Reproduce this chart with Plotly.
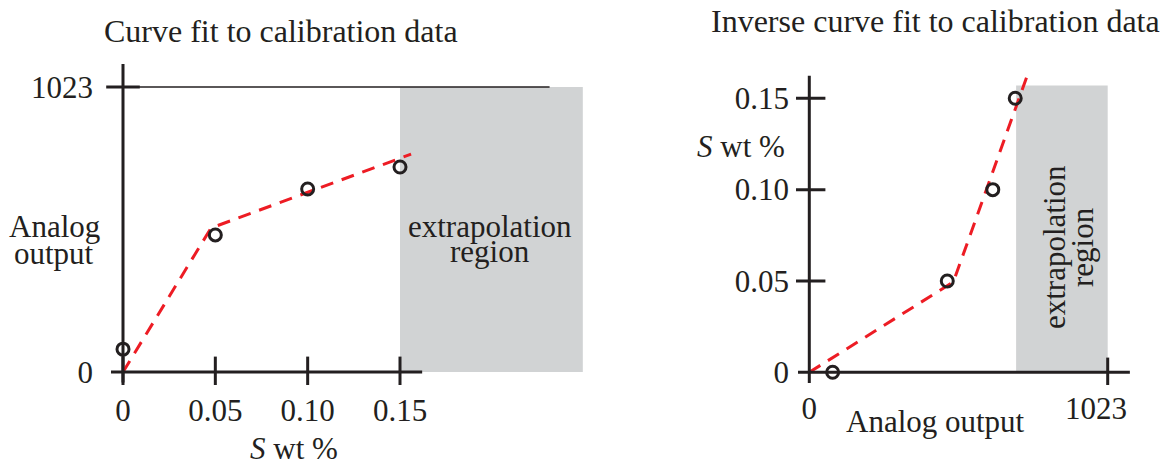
import plotly.graph_objects as go

# ---------------- data ----------------
cal_s = [0, 0.05, 0.10, 0.15]            # S wt % (calibration)
cal_out = [82, 492, 657, 736]            # analog output (calibration)
fit_s = [0, 0.0477, 0.156]               # forward fit, S wt %
fit_out = [0, 517, 782]                  # forward fit, analog output

inv_out = [80, 473, 629, 706]            # inverse: analog output
inv_s = [0, 0.05, 0.10, 0.15]            # inverse: S wt %
ifit_out = [0, 494, 745]
ifit_s = [0, 0.0495, 0.1615]

left_xticks = [0, 0.05, 0.10, 0.15]
left_xticktext = ["0", "0.05", "0.10", "0.15"]
left_yticks = [0, 1023]
right_yticks = [0, 0.05, 0.10, 0.15]
right_yticktext = ["0", "0.05", "0.10", "0.15"]
right_xticks = [0, 1023]
right_xticktext = ["0", "1023\u00a0\u00a0\u00a0"]

W, H = 1165, 468
INK = "#231f20"
RED = "#ed1c24"
GRAY = "#d1d3d4"
FONT = "Liberation Serif, Times New Roman, serif"


def rng(px0, px1, anchor_px, anchor_val, ppu):
    """data range for pixel span given anchor pixel and pixels per unit"""
    return [anchor_val + (px0 - anchor_px) / ppu, anchor_val + (px1 - anchor_px) / ppu]


# left subplot pixel geometry
Lx0, Lx1 = 100, 600
Ly_top, Ly_bot = 50, 385
L_ppu_x = (400 - 123) / 0.15
L_ppu_y = (372 - 87) / 1023.0
# right subplot pixel geometry
Rx0, Rx1 = 796, 1140
Ry_top, Ry_bot = 60, 385
R_ppu_x = (1107.7 - 809.3) / 1023.0
R_ppu_y = (372.3 - 98.3) / 0.15

fig = go.Figure()

# gray extrapolation regions
fig.add_shape(type="rect", xref="x", yref="y", x0=0.15, x1=0.249, y0=0, y1=1023,
              fillcolor=GRAY, line_width=0, layer="below")
fig.add_shape(type="rect", xref="x2", yref="y2", x0=709, x1=1023, y0=0, y1=0.157,
              fillcolor=GRAY, line_width=0, layer="below")

# left axes lines
fig.add_shape(type="line", xref="x", yref="y", x0=-0.0065, x1=0.162, y0=0, y1=0,
              line=dict(color=INK, width=3))
fig.add_shape(type="line", xref="x", yref="y", x0=0, x1=0, y0=-38, y1=1106,
              line=dict(color=INK, width=3))
fig.add_shape(type="line", xref="x", yref="y", x0=0, x1=0.231, y0=1023, y1=1023,
              line=dict(color=INK, width=1.5))
# right axes lines
fig.add_shape(type="line", xref="x2", yref="y2", x0=-38.7, x1=1099, y0=0, y1=0,
              line=dict(color=INK, width=3))
fig.add_shape(type="line", xref="x2", yref="y2", x0=0, x1=0, y0=-0.0059, y1=0.1623,
              line=dict(color=INK, width=3))

# tick marks as line markers
fig.add_trace(go.Scatter(x=left_xticks, y=[0] * len(left_xticks), mode="markers",
                         marker=dict(symbol="line-ns", size=22, line=dict(color=INK, width=3)),
                         hoverinfo="skip", showlegend=False, xaxis="x", yaxis="y"))
fig.add_trace(go.Scatter(x=[0], y=[1023], mode="markers",
                         marker=dict(symbol="line-ew", size=24, line=dict(color=INK, width=3)),
                         hoverinfo="skip", showlegend=False, xaxis="x", yaxis="y"))
fig.add_trace(go.Scatter(x=[0] * 3, y=right_yticks[1:], mode="markers",
                         marker=dict(symbol="line-ew", size=23, line=dict(color=INK, width=3)),
                         hoverinfo="skip", showlegend=False, xaxis="x2", yaxis="y2"))
fig.add_trace(go.Scatter(x=[1023], y=[0], mode="markers",
                         marker=dict(symbol="line-ns", size=21, line=dict(color=INK, width=3)),
                         hoverinfo="skip", showlegend=False, xaxis="x2", yaxis="y2"))

# fits
fig.add_trace(go.Scatter(x=fit_s, y=fit_out, mode="lines",
                         line=dict(color=RED, width=3, dash="13px,9px"),
                         showlegend=False, xaxis="x", yaxis="y"))
fig.add_trace(go.Scatter(x=ifit_out, y=ifit_s, mode="lines",
                         line=dict(color=RED, width=3, dash="13px,9px"),
                         showlegend=False, xaxis="x2", yaxis="y2"))
# calibration points
fig.add_trace(go.Scatter(x=cal_s, y=cal_out, mode="markers",
                         marker=dict(symbol="circle-open", size=12, color=INK, line=dict(color=INK, width=3)),
                         showlegend=False, xaxis="x", yaxis="y"))
fig.add_trace(go.Scatter(x=inv_out, y=inv_s, mode="markers",
                         marker=dict(symbol="circle-open", size=12, color=INK, line=dict(color=INK, width=3)),
                         showlegend=False, xaxis="x2", yaxis="y2"))

tickfont = dict(family=FONT, size=31, color=INK)


def pxx(px):
    return px / W


def pxy(py):
    return 1 - py / H


common = dict(showgrid=False, zeroline=False, showline=False, ticks="",
              automargin=False, fixedrange=True, tickfont=tickfont, tickmode="array")

fig.update_layout(
    width=W, height=H, margin=dict(l=0, r=0, t=0, b=0, autoexpand=False),
    paper_bgcolor="white", plot_bgcolor="rgba(0,0,0,0)",
    xaxis=dict(domain=[pxx(Lx0), pxx(Lx1)], range=rng(Lx0, Lx1, 123, 0, L_ppu_x),
               tickvals=left_xticks, ticktext=left_xticktext,
               ticklabelstandoff=4, anchor="y", **common),
    yaxis=dict(domain=[pxy(Ly_bot), pxy(Ly_top)],
               range=[(372 - Ly_bot) / L_ppu_y, (372 - Ly_top) / L_ppu_y],
               tickvals=left_yticks, ticklabelstandoff=6, anchor="x", **common),
    xaxis2=dict(domain=[pxx(Rx0), pxx(Rx1)], range=rng(Rx0, Rx1, 809.3, 0, R_ppu_x),
                tickvals=right_xticks, ticktext=right_xticktext,
                ticklabelstandoff=2, anchor="y2", **common),
    yaxis2=dict(domain=[pxy(Ry_bot), pxy(Ry_top)],
                range=[(372.3 - Ry_bot) / R_ppu_y, (372.3 - Ry_top) / R_ppu_y],
                tickvals=right_yticks, ticktext=right_yticktext,
                ticklabelstandoff=6, anchor="x2", **common),
)


def ann(text, px, py, xanchor="center", yanchor="middle", angle=0, size=31):
    fig.add_annotation(text=text, x=pxx(px), y=pxy(py), xref="paper", yref="paper",
                       showarrow=False, xanchor=xanchor, yanchor=yanchor,
                       textangle=angle, font=dict(family=FONT, size=size, color=INK))


ann("Curve fit to calibration data", 281, 31, size=32)
ann("Inverse curve fit to calibration data", 935, 21, size=32)
ann("Analog", 54, 226)
ann("output", 54, 254)
ann("<i>S</i> wt %", 294, 468, yanchor="bottom")
ann("extrapolation", 490, 226)
ann("region", 490, 251)
ann("<i>S</i> wt %", 741, 146)
ann("Analog output", 935, 421)
ann("extrapolation", 1054, 247, angle=-90)
ann("region", 1082, 247, angle=-90)

fig.write_html(
    "out.html",
    config={"displayModeBar": False},
    post_script="document.body.style.margin='0';document.body.style.overflow='hidden';",
)
